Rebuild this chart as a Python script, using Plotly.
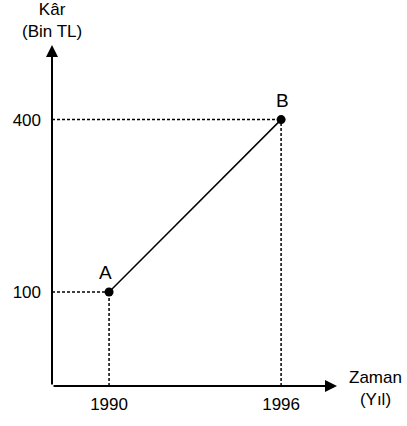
import plotly.graph_objects as go

# ---- data ----
years = [1990, 1996]
profits = [100, 400]
point_labels = ["A", "B"]
x_tick_labels = ["1990", "1996"]
y_tick_labels = ["100", "400"]
y_axis_title = "Kâr<br>(Bin TL)"
x_axis_title = "Zaman<br>(Yıl)"

# ---- layout geometry (axis ranges) ----
X0, X1 = 1988.01, 1997.95      # origin x value, arrow tip x value
Y0, Y1 = -63.5, 529.8          # origin y value, arrow tip y value
FONT = "Liberation Sans, Arial, sans-serif"

fig = go.Figure()

# dotted guide lines from each point to the axes
for xv, yv in zip(years, profits):
    fig.add_shape(type="line", xref="x", yref="y", x0=X0, y0=yv, x1=xv, y1=yv,
                  line=dict(color="black", width=1.5, dash="3px,2px"))
    fig.add_shape(type="line", xref="x", yref="y", x0=xv, y0=Y0, x1=xv, y1=yv,
                  line=dict(color="black", width=1.5, dash="3px,2px"))

# line A-B with points
fig.add_trace(go.Scatter(x=years, y=profits, mode="lines+markers",
                         line=dict(color="black", width=1.5),
                         marker=dict(color="black", size=9),
                         cliponaxis=False, hoverinfo="skip", showlegend=False))

annotations = []
# axes as arrows
annotations.append(dict(x=X1, y=Y0, ax=X0, ay=Y0, xref="x", yref="y", axref="x", ayref="y",
                        text="", showarrow=True, arrowhead=2, arrowsize=1.2, arrowwidth=2,
                        arrowcolor="black", standoff=0))
annotations.append(dict(x=X0, y=Y1, ax=X0, ay=Y0, xref="x", yref="y", axref="x", ayref="y",
                        text="", showarrow=True, arrowhead=2, arrowsize=1.2, arrowwidth=2,
                        arrowcolor="black", standoff=0))
# point labels
shifts = [(-4, 20), (1, 19)]
for xv, yv, lab, (sx, sy) in zip(years, profits, point_labels, shifts):
    annotations.append(dict(x=xv, y=yv, xref="x", yref="y", text=lab, showarrow=False,
                            xshift=sx, yshift=sy, xanchor="center", yanchor="middle",
                            font=dict(family=FONT, size=19, color="black")))
# axis titles
annotations.append(dict(x=0, y=1, xref="paper", yref="paper", text=y_axis_title,
                        showarrow=False, xanchor="center", yanchor="bottom", yshift=2,
                        font=dict(family=FONT, size=17, color="black")))
annotations.append(dict(x=1, y=0, xref="paper", yref="paper", text=x_axis_title,
                        showarrow=False, xanchor="center", yanchor="middle", xshift=38, yshift=-2,
                        font=dict(family=FONT, size=17, color="black")))

fig.update_layout(
    width=407, height=426,
    margin=dict(l=52, r=70, t=45, b=29, pad=0),
    paper_bgcolor="white", plot_bgcolor="white",
    showlegend=False,
    annotations=annotations,
    xaxis=dict(range=[X0, X1], tickvals=years, ticktext=x_tick_labels,
               showgrid=False, zeroline=False, showline=False, ticks="",
               ticklabelstandoff=6,
               tickfont=dict(family=FONT, size=17, color="black"), fixedrange=True),
    yaxis=dict(range=[Y0, Y1], tickvals=profits, ticktext=y_tick_labels,
               showgrid=False, zeroline=False, showline=False, ticks="",
               ticklabelstandoff=10,
               tickfont=dict(family=FONT, size=17, color="black"), fixedrange=True),
)

fig.write_html("out.html", config={"displayModeBar": False},
               post_script="document.body.style.margin='0';document.body.style.padding='0';")
